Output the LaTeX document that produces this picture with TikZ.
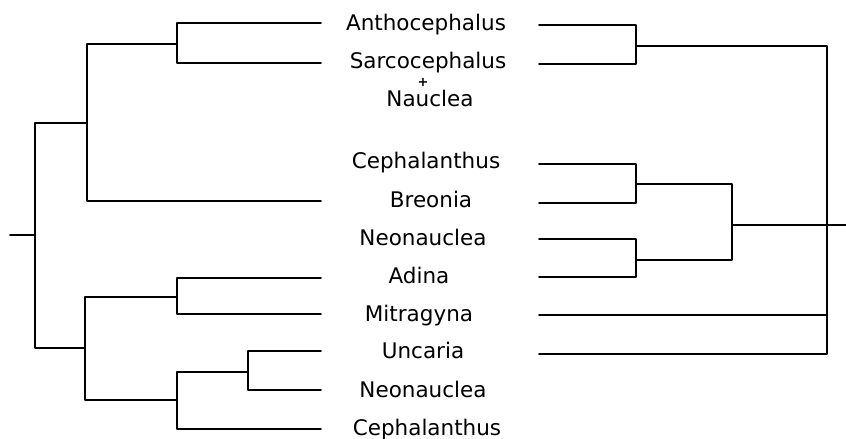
\documentclass[tikz,border=0pt]{standalone}
\usepackage{fontspec}
\setmainfont{DejaVu Sans}
\begin{document}
\begin{tikzpicture}[x=1pt,y=-1pt,
  br/.style={line width=1.8pt,line join=round,line cap=round},
  lab/.style={anchor=base,inner sep=0pt,font=\fontsize{21.5}{24}\selectfont}]
\useasboundingbox (0,0) rectangle (846,439);
% labels
\node[lab] (t1) at (426,30) {Anthocephalus};
\node[lab] (t2) at (428,68) {Sarcocephalus};
\node[inner sep=0pt,font=\fontsize{13}{13}\selectfont\bfseries] (plus) at (423,82) {+};
\node[lab] (t3) at (430,106) {Nauclea};
\node[lab] (t4) at (426,168) {Cephalanthus};
\node[lab] (t5) at (431,207) {Breonia};
\node[lab] (t6) at (423,245) {Neonauclea};
\node[lab] (t7) at (419,283) {Adina};
\node[lab] (t8) at (419,321) {Mitragyna};
\node[lab] (t9) at (423,358) {Uncaria};
\node[lab] (t10) at (423,397) {Neonauclea};
\node[lab] (t11) at (427,435) {Cephalanthus};
% left tree coordinates
\coordinate (a1) at (321,23);
\coordinate (a2) at (321,63);
\coordinate (a3) at (321,201);
\coordinate (a4) at (321,278);
\coordinate (a5) at (321,314);
\coordinate (a6) at (321,351);
\coordinate (a7) at (321,390);
\coordinate (a8) at (321,429);
\coordinate (j1) at (177,44);
\coordinate (j2) at (87,123);
\coordinate (rt) at (35,235);
\coordinate (r0) at (10,235);
\coordinate (j4) at (85,348);
\coordinate (j5) at (177,297);
\coordinate (j6) at (177,400);
\coordinate (j7) at (248,372);
\draw[br] (a1) -| (j1) |- (a2);
\draw[br] (j1) -| (j2) |- (a3);
\draw[br] (j2) -| (rt) |- (j4);
\draw[br] (r0) -- (rt);
\draw[br] (j5) -| (j4) |- (j6);
\draw[br] (a4) -| (j5) |- (a5);
\draw[br] (j7) -| (j6) |- (a8);
\draw[br] (a6) -| (j7) |- (a7);
% right tree coordinates
\coordinate (b1) at (539,25);
\coordinate (b2) at (539,64);
\coordinate (b3) at (539,164);
\coordinate (b4) at (539,203);
\coordinate (b5) at (539,239);
\coordinate (b6) at (539,277);
\coordinate (b7) at (539,315);
\coordinate (b8) at (539,354);
\coordinate (k1) at (636,46);
\coordinate (k2) at (636,184);
\coordinate (k3) at (636,260);
\coordinate (k4) at (732,225);
\coordinate (kr) at (827,315);
\coordinate (out) at (846,225);
\draw[br] (b1) -| (k1) |- (b2);
\draw[br] (b3) -| (k2) |- (b4);
\draw[br] (b5) -| (k3) |- (b6);
\draw[br] (k2) -| (k4) |- (k3);
\draw[br] (k4) -- (out);
\draw[br] (k1) -| (kr) |- (b8);
\draw[br] (b7) -- (kr);
\end{tikzpicture}
\end{document}
